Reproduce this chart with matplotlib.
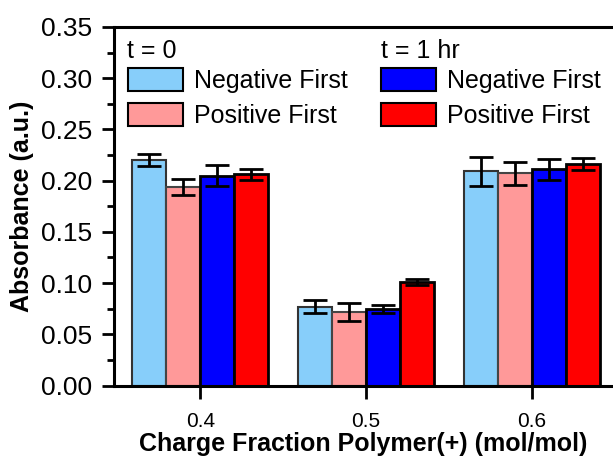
import matplotlib
matplotlib.use("Agg")
import matplotlib.pyplot as plt
import numpy as np
from matplotlib.patches import Patch
from matplotlib.ticker import MultipleLocator

plt.rcParams['font.family'] = ['Liberation Sans', 'DejaVu Sans']

# Data
categories = [0.4, 0.5, 0.6]
series_names = ["Negative First (t = 0)", "Positive First (t = 0)",
                "Negative First (t = 1 hr)", "Positive First (t = 1 hr)"]
neg_t0 = [0.220, 0.077, 0.209]
pos_t0 = [0.194, 0.072, 0.207]
neg_t1 = [0.205, 0.075, 0.211]
pos_t1 = [0.206, 0.101, 0.216]
neg_t0_err = [0.006, 0.006, 0.014]
pos_t0_err = [0.008, 0.009, 0.011]
neg_t1_err = [0.010, 0.004, 0.010]
pos_t1_err = [0.005, 0.003, 0.006]
x_tick_labels = ["0.4", "0.5", "0.6"]

values = [neg_t0, pos_t0, neg_t1, pos_t1]
errors = [neg_t0_err, pos_t0_err, neg_t1_err, pos_t1_err]
colors = ["#87CEFA", "#FF9999", "#0000FF", "#FF0000"]
edgecolors = ["#333333", "#444444", "black", "black"]
edgewidths = [1.5, 1.5, 2.0, 2.0]

W, H = 613, 458
fig = plt.figure(figsize=(W / 100, H / 100), dpi=100)
ax = fig.add_axes([114 / W, 1 - 385.5 / H, (613 - 114) / W, (385.5 - 27) / H])

width = 0.0205
offsets = [-1.5, -0.5, 0.5, 1.5]
x = np.array(categories)
for vals, errs, c, ec, lw, off in zip(values, errors, colors, edgecolors, edgewidths, offsets):
    ax.bar(x + off * width, vals, width=width, color=c, edgecolor=ec, linewidth=lw, zorder=2)
    ax.errorbar(x + off * width, vals, yerr=errs, fmt='none', ecolor='black',
                elinewidth=2.0, capsize=8.5, capthick=2.0, zorder=3)

ax.set_xlim(0.348, 0.649)
ax.set_ylim(0, 0.35)
ax.set_xticks(categories)
ax.set_xticklabels(x_tick_labels)
ax.yaxis.set_major_locator(MultipleLocator(0.05))
ax.yaxis.set_minor_locator(MultipleLocator(0.025))
ax.yaxis.set_major_formatter(matplotlib.ticker.FormatStrFormatter('%.2f'))

for s in ['left', 'bottom', 'top']:
    ax.spines[s].set_linewidth(2.2)
ax.spines['right'].set_visible(False)

ax.tick_params(axis='y', which='major', direction='out', length=9, width=2, labelsize=19, pad=7)
ax.tick_params(axis='y', which='minor', direction='out', length=5, width=2)
ax.tick_params(axis='x', which='major', direction='out', length=9, width=2, labelsize=15, pad=10)
ax.tick_params(axis='x', which='minor', length=0)

ax.set_xlabel("Charge Fraction Polymer(+) (mol/mol)", fontsize=18, fontweight='bold', labelpad=1)
ax.set_ylabel("Absorbance (a.u.)", fontsize=18, fontweight='bold')
ax.yaxis.set_label_coords(-0.16, 0.5)

handles = [Patch(facecolor=colors[i], edgecolor='black', linewidth=1.5) for i in range(4)]
labels = ["Negative First", "Positive First", "Negative First", "Positive First"]
leg = ax.legend(handles, labels, ncol=2, loc='upper left',
                bbox_to_anchor=(128 / W, 1 - 68 / H), bbox_transform=fig.transFigure,
                frameon=False, fontsize=18, borderpad=0, borderaxespad=0,
                handlelength=2.2, handleheight=1.05, handletextpad=0.45,
                columnspacing=1.3, labelspacing=0.38)
fig.text(127 / W, 1 - 51 / H, "t = 0", fontsize=18, ha='left', va='center')
fig.text(381 / W, 1 - 51 / H, "t = 1 hr", fontsize=18, ha='left', va='center')

fig.savefig("out.png", dpi=100)
